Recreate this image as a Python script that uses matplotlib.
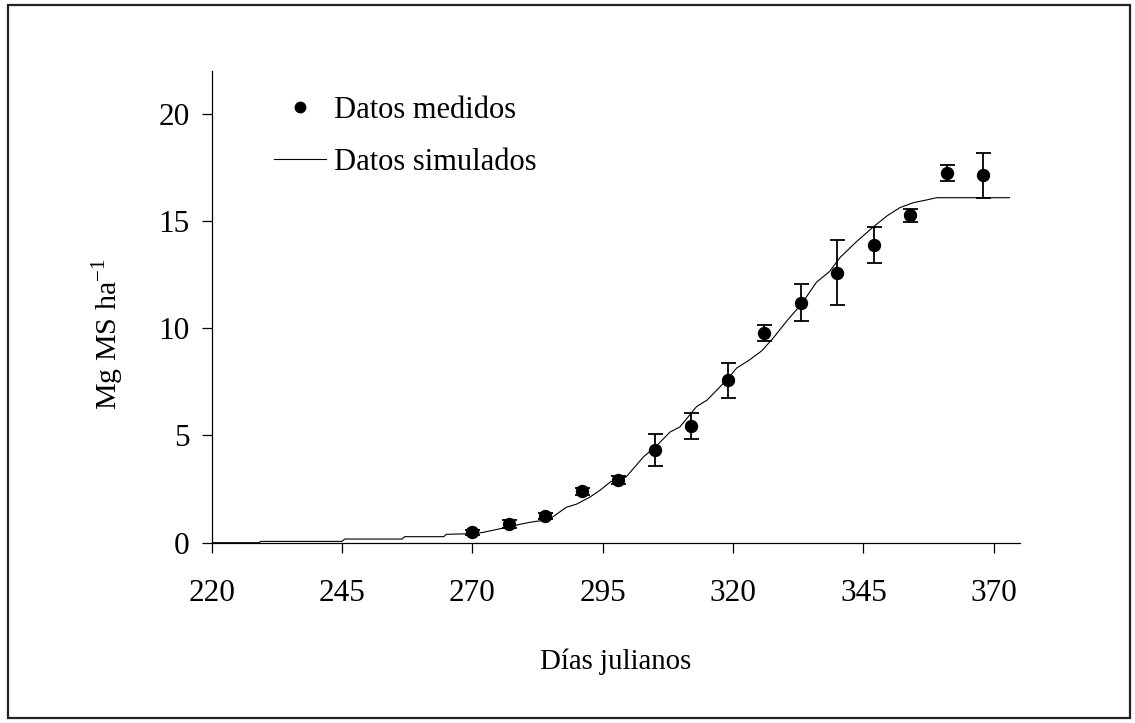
import matplotlib
matplotlib.use("Agg")
import matplotlib.pyplot as plt
from matplotlib.lines import Line2D
from matplotlib.patches import Rectangle

# Measured biomass (weekly samplings) with standard deviation
dias_medidos = [270, 277, 284, 291, 298, 305, 312, 319, 326, 333, 340, 347, 354, 361, 368]
ms_medida = [0.48, 0.88, 1.24, 2.39, 2.92, 4.31, 5.43, 7.57, 9.80, 11.20, 12.59, 13.88, 15.27, 17.23, 17.13]
ms_desv = [0.10, 0.20, 0.14, 0.17, 0.20, 0.75, 0.60, 0.80, 0.37, 0.87, 1.52, 0.84, 0.30, 0.38, 1.06]

# Simulated biomass from the crop model
dias_sim = [220, 229, 229.5, 245, 245.5, 256.5, 257, 264.5, 265, 270, 272, 274, 278, 281, 283,
            285, 288, 290, 292.5, 294.5, 296.5, 299.5, 302.8, 305.4, 307.9, 309.8, 313, 315,
            318.8, 320.7, 323, 325.5, 327.7, 330.5, 333, 336, 338.5, 340.5, 343.7, 347, 349.5,
            352, 354.6, 357, 359, 373]
ms_sim = [0.0, 0.0, 0.06, 0.06, 0.17, 0.17, 0.28, 0.28, 0.39, 0.42, 0.48, 0.58, 0.80, 0.95, 1.02,
          1.13, 1.65, 1.80, 2.12, 2.45, 2.84, 3.07, 4.00, 4.54, 5.16, 5.40, 6.35, 6.65,
          7.60, 8.15, 8.50, 8.95, 9.55, 10.40, 11.10, 12.15, 12.65, 13.30, 14.05, 14.75, 15.24,
          15.63, 15.86, 15.98, 16.09, 16.09]

x_ticks = [220, 245, 270, 295, 320, 345, 370]
y_ticks = [0, 5, 10, 15, 20]

plt.rcParams['font.family'] = ['Liberation Serif', 'DejaVu Serif']
FS_TICK = 22.5
FS_LEG = 22
FS_XLAB = 20.8
FS_YLAB = 21.6

W, H = 1135, 723
fig = plt.figure(figsize=(W / 100, H / 100), dpi=100)
ax = fig.add_axes([0.1865, 0.2494, 0.8986 - 0.1865, 0.9018 - 0.2494])

ax.plot(dias_sim, ms_sim, color='black', lw=0.8, zorder=2)
ax.errorbar(dias_medidos, ms_medida, yerr=ms_desv, fmt='o', color='black',
            ms=8.6, elinewidth=1.3, capsize=5.4, capthick=1.3, zorder=3)

ax.set_xlim(220, 375)
ax.set_ylim(0, 22)
ax.set_xticks(x_ticks)
ax.set_yticks(y_ticks)
ax.spines['top'].set_visible(False)
ax.spines['right'].set_visible(False)
for s in ('left', 'bottom'):
    ax.spines[s].set_linewidth(0.9)
ax.tick_params(axis='both', direction='out', length=7, width=0.9, labelsize=FS_TICK)
ax.tick_params(axis='x', pad=19)
ax.tick_params(axis='y', pad=9)

ax.set_xlabel('Días julianos', fontsize=FS_XLAB, labelpad=29)
ax.set_ylabel('Mg MS ha$^{\\mathregular{-1}}$', fontsize=FS_YLAB)
ax_w_px = (0.8986 - 0.1865) * W
ax_h_px = (0.9018 - 0.2494) * H
ax.yaxis.set_label_coords((126 - 211.7) / ax_w_px, (542.7 - 334) / ax_h_px)

handles = [Line2D([], [], marker='o', ls='none', color='black', ms=7.5),
           Line2D([], [], color='black', lw=0.8)]
ax.legend(handles, ['Datos medidos', 'Datos simulados'], loc='upper left',
          bbox_to_anchor=(274 / W, 1 - 96 / H), bbox_transform=fig.transFigure,
          frameon=False, fontsize=FS_LEG, handlelength=1.7, handletextpad=0.27,
          labelspacing=0.74, borderpad=0, borderaxespad=0)

fig.patches.append(Rectangle((8 / W, 5 / H), 1122 / W, 713 / H,
                             transform=fig.transFigure, fill=False,
                             edgecolor='#222222', lw=1.6, zorder=0))

fig.savefig('out.png', dpi=100)
